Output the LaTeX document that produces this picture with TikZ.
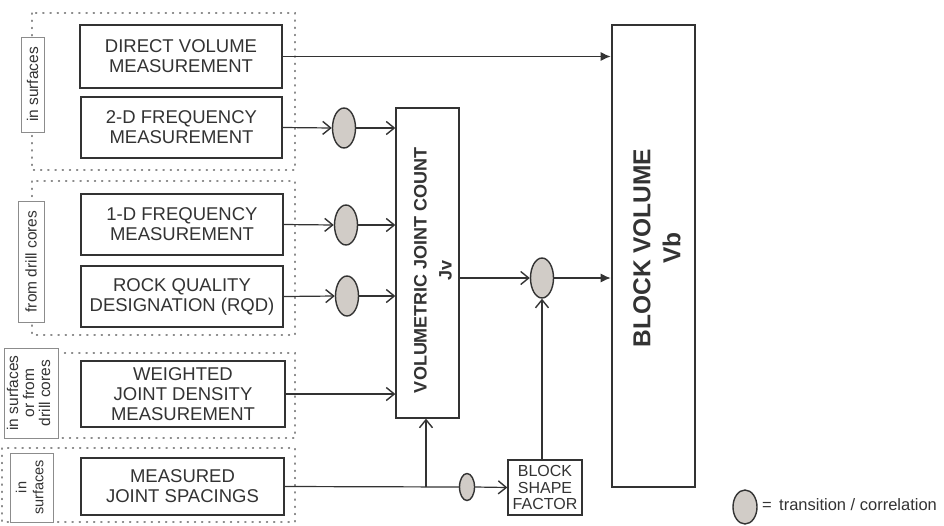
\documentclass[tikz,border=0pt]{standalone}
\usepackage{fontspec}
\setmainfont{Liberation Sans}
\usetikzlibrary{arrows.meta,shapes.geometric}
\definecolor{ink}{rgb}{0.2,0.2,0.2}
\definecolor{dotc}{rgb}{0.55,0.55,0.55}
\definecolor{efill}{rgb}{0.82,0.80,0.78}
\tikzset{
  box/.style={draw=ink,line width=1.6pt,rectangle,inner sep=0pt,align=center,text=ink,
     font=\fontsize{18.5}{20}\selectfont},
  sidebox/.style={draw=dotc,line width=0.8pt,fill=white,rectangle,inner sep=0pt,align=center,text=ink,
     font=\fontsize{15.5}{16}\selectfont},
  grp/.style={draw=dotc,line width=1.2pt,dash pattern=on 1.2pt off 6pt,line cap=round},
  trans/.style={draw=ink,line width=1.4pt,ellipse,fill=efill,inner sep=0pt},
  conn/.style={draw=ink,line width=1.2pt},
  barb/.style={conn,-{Straight Barb[length=8pt,width=13pt,line width=1.4pt]}},
  solid arr/.style={conn,-{Latex[length=10pt,width=9pt]}},
}
\begin{document}
\begin{tikzpicture}[x=1pt,y=-1pt]
\useasboundingbox (0,0) rectangle (944,525);
\fill[white] (0,0) rectangle (944,525);
% dotted group frames
\draw[grp] (32,13) rectangle (295,170);
\draw[grp] (32,181) rectangle (295,335);
\draw[grp] (32,353) rectangle (295,438);
\draw[grp] (2,448) rectangle (295,522);
% side labels
\node[sidebox,minimum width=23pt,minimum height=95pt] (l1) at (32.5,84.5) {\rotatebox{90}{in surfaces}};
\node[sidebox,minimum width=26pt,minimum height=121pt] (l2) at (31,261.5) {\rotatebox{90}{from drill cores}};
\node[sidebox,minimum width=54pt,minimum height=90pt] (l3) at (31,393) {\rotatebox{90}{\begin{tabular}{@{}c@{}}in surfaces\\or from\\drill cores\end{tabular}}};
\node[sidebox,minimum width=43pt,minimum height=69pt] (l4) at (31.5,487.5) {\rotatebox{90}{\fontsize{14.5}{17}\selectfont\begin{tabular}{@{}c@{}}in\\surfaces\end{tabular}}};
% input boxes
\node[box,minimum width=202pt,minimum height=63pt] (dv) at (181,56.5) {DIRECT VOLUME\\MEASUREMENT};
\node[box,minimum width=201pt,minimum height=61pt] (f2) at (181.5,127.5) {2-D FREQUENCY\\MEASUREMENT};
\node[box,minimum width=202pt,minimum height=61pt] (f1) at (182,224.5) {1-D FREQUENCY\\MEASUREMENT};
\node[box,minimum width=202pt,minimum height=61pt] (rqd) at (182,296.5) {ROCK QUALITY\\DESIGNATION (RQD)};
\node[box,minimum width=204pt,minimum height=66pt] (wjd) at (183,394) {WEIGHTED\\JOINT DENSITY\\MEASUREMENT};
\node[box,minimum width=203pt,minimum height=57pt] (mjs) at (182.5,486.5) {MEASURED\\JOINT SPACINGS};
% central boxes
\node[box,line width=1.3pt,minimum width=63pt,minimum height=310pt] (vjc) at (427.5,263) {};
\node[text=ink,align=center,font=\bfseries\fontsize{18}{25}\selectfont,rotate=90] (vjct) at (433,270) {VOLUMETRIC JOINT COUNT\\Jv};
\node[box,line width=1.3pt,minimum width=74pt,minimum height=55pt,font=\fontsize{16}{16.5}\selectfont] (bsf) at (545,487.5) {BLOCK\\SHAPE\\FACTOR};
\node[box,line width=2.6pt,minimum width=83pt,minimum height=462pt] (bv) at (653.5,256) {};
\node[text=ink,align=center,font=\bfseries\fontsize{24.5}{30}\selectfont,rotate=90] (bvt) at (657,248) {BLOCK VOLUME\\Vb};
% transition ellipses
\node[trans,minimum width=23pt,minimum height=40pt] (e1) at (344,128) {};
\node[trans,minimum width=23pt,minimum height=40pt] (e2) at (346,225) {};
\node[trans,minimum width=23pt,minimum height=40pt] (e3) at (347,296) {};
\node[trans,minimum width=23pt,minimum height=40pt] (e4) at (542,278) {};
\node[trans,minimum width=15pt,minimum height=27pt] (e5) at (467,487) {};
% connectors
\draw[solid arr] (dv.east) -- (dv.east -| bv.west);
\draw[barb] (f2.east) -- (e1.west);
\draw[barb] (e1.east) -- (e1 -| vjc.west);
\draw[barb] (f1.east) -- (e2.west);
\draw[barb] (e2.east) -- (e2 -| vjc.west);
\draw[barb] (rqd.east) -- (e3.west);
\draw[barb] (e3.east) -- (e3 -| vjc.west);
\draw[barb] (wjd.east) -- (wjd.east -| vjc.west);
\coordinate (br) at (426,487);
\draw[conn] (mjs.east) -- (e5.west);
\draw[barb] (br) -- (br |- vjc.south);
\draw[barb] (e5.east) -- (bsf.west);
\draw[barb] (e4 -| vjc.east) -- (e4.west);
\draw[solid arr] (e4.east) -- (e4 -| bv.west);
\draw[barb] (bsf.north -| e4) -- (e4.south);
% legend
\node[trans,minimum width=24pt,minimum height=34pt] (leg) at (745,507) {};
\node[anchor=west,text=ink,font=\fontsize{16.5}{18}\selectfont,inner sep=0pt] (legt) at (762,505) {=\, transition / correlation};
\end{tikzpicture}
\end{document}
